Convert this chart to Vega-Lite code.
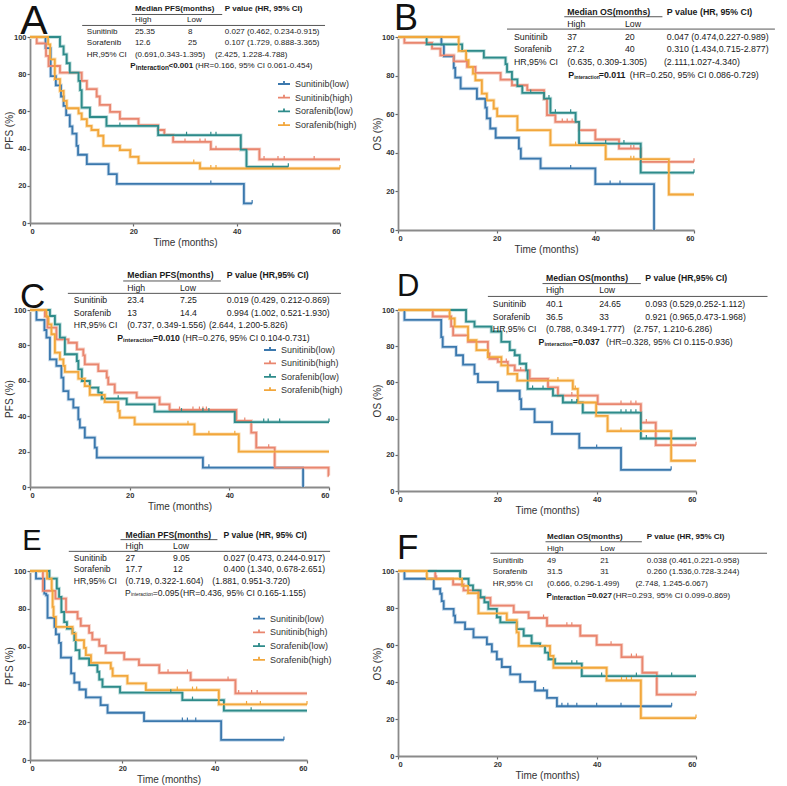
{
"$schema": "https://vega.github.io/schema/vega-lite/v6.json",
"padding": {"left": 4, "top": 1, "right": 2, "bottom": 1},
"background": "white",
"config": {
 "font": "Liberation Sans",
 "view": {"stroke": null},
 "axis": {"grid": false, "labelFontSize": 7.5, "labelFontWeight": "bold", "labelColor": "#333", "tickSize": 3, "tickColor": "#666", "tickWidth": 1.2, "domainColor": "#8a8a8a", "domainWidth": 1.8, "labelPadding": 1, "titleFontSize": 10, "titleFontWeight": "normal", "titleColor": "#333"},
 "axisX": {"titlePadding": 3},
 "axisY": {"titlePadding": -1}
},
"columns": 2,
"spacing": {"row": 80, "column": 58},
"bounds": "flush",
"resolve": {"scale": {"color": "independent"}, "legend": {"color": "independent"}},
"datasets": {
"curves": [
{"p":"A","g":"Sunitinib(low)","t":0,"s":100},{"p":"A","g":"Sunitinib(low)","t":3,"s":94},{"p":"A","g":"Sunitinib(low)","t":4,"s":79},{"p":"A","g":"Sunitinib(low)","t":5,"s":74},{"p":"A","g":"Sunitinib(low)","t":6,"s":68},{"p":"A","g":"Sunitinib(low)","t":6.5,"s":63},{"p":"A","g":"Sunitinib(low)","t":7,"s":58},{"p":"A","g":"Sunitinib(low)","t":7.7,"s":52},{"p":"A","g":"Sunitinib(low)","t":8.2,"s":48},{"p":"A","g":"Sunitinib(low)","t":9,"s":41.5},{"p":"A","g":"Sunitinib(low)","t":9.3,"s":36.7},{"p":"A","g":"Sunitinib(low)","t":11,"s":31.7},{"p":"A","g":"Sunitinib(low)","t":15.2,"s":26.3},{"p":"A","g":"Sunitinib(low)","t":16.8,"s":21},{"p":"A","g":"Sunitinib(low)","t":41.4,"s":10.5},{"p":"A","g":"Sunitinib(low)","t":43,"s":10.5},
{"p":"A","g":"Sunitinib(high)","t":0,"s":100},{"p":"A","g":"Sunitinib(high)","t":1.3,"s":96.6},{"p":"A","g":"Sunitinib(high)","t":3.1,"s":89.8},{"p":"A","g":"Sunitinib(high)","t":3.6,"s":84.4},{"p":"A","g":"Sunitinib(high)","t":5.8,"s":80.8},{"p":"A","g":"Sunitinib(high)","t":10,"s":76.4},{"p":"A","g":"Sunitinib(high)","t":11,"s":72},{"p":"A","g":"Sunitinib(high)","t":12.9,"s":68},{"p":"A","g":"Sunitinib(high)","t":13.5,"s":63.5},{"p":"A","g":"Sunitinib(high)","t":15.5,"s":59.7},{"p":"A","g":"Sunitinib(high)","t":17.4,"s":56},{"p":"A","g":"Sunitinib(high)","t":21,"s":52.6},{"p":"A","g":"Sunitinib(high)","t":24.8,"s":50},{"p":"A","g":"Sunitinib(high)","t":26,"s":47.4},{"p":"A","g":"Sunitinib(high)","t":27.7,"s":43.6},{"p":"A","g":"Sunitinib(high)","t":35,"s":39.7},{"p":"A","g":"Sunitinib(high)","t":44.4,"s":34.2},{"p":"A","g":"Sunitinib(high)","t":60,"s":34.2},
{"p":"A","g":"Sorafenib(low)","t":0,"s":100},{"p":"A","g":"Sorafenib(low)","t":5.8,"s":95},{"p":"A","g":"Sorafenib(low)","t":6.5,"s":90.7},{"p":"A","g":"Sorafenib(low)","t":7.1,"s":85.9},{"p":"A","g":"Sorafenib(low)","t":7.7,"s":80.9},{"p":"A","g":"Sorafenib(low)","t":9.4,"s":76.4},{"p":"A","g":"Sorafenib(low)","t":9.7,"s":71.4},{"p":"A","g":"Sorafenib(low)","t":10,"s":62},{"p":"A","g":"Sorafenib(low)","t":11.6,"s":57},{"p":"A","g":"Sorafenib(low)","t":14.8,"s":52.2},{"p":"A","g":"Sorafenib(low)","t":24.8,"s":47.2},{"p":"A","g":"Sorafenib(low)","t":40.8,"s":39.4},{"p":"A","g":"Sorafenib(low)","t":41.9,"s":30.2},{"p":"A","g":"Sorafenib(low)","t":50,"s":30.2},
{"p":"A","g":"Sorafenib(high)","t":0,"s":100},{"p":"A","g":"Sorafenib(high)","t":3.5,"s":96},{"p":"A","g":"Sorafenib(high)","t":3.9,"s":88},{"p":"A","g":"Sorafenib(high)","t":4.8,"s":77.3},{"p":"A","g":"Sorafenib(high)","t":5.8,"s":71},{"p":"A","g":"Sorafenib(high)","t":6.5,"s":65.7},{"p":"A","g":"Sorafenib(high)","t":7.1,"s":61.7},{"p":"A","g":"Sorafenib(high)","t":9.4,"s":58.9},{"p":"A","g":"Sorafenib(high)","t":10,"s":55.8},{"p":"A","g":"Sorafenib(high)","t":11,"s":52.2},{"p":"A","g":"Sorafenib(high)","t":11.9,"s":50},{"p":"A","g":"Sorafenib(high)","t":13.2,"s":46.9},{"p":"A","g":"Sorafenib(high)","t":14.2,"s":41.5},{"p":"A","g":"Sorafenib(high)","t":17.4,"s":39.2},{"p":"A","g":"Sorafenib(high)","t":19.4,"s":35.6},{"p":"A","g":"Sorafenib(high)","t":21,"s":32.2},{"p":"A","g":"Sorafenib(high)","t":32.9,"s":29.3},{"p":"A","g":"Sorafenib(high)","t":60,"s":29.3},

{"p":"B","g":"Sunitinib(low)","t":0,"s":100},{"p":"B","g":"Sunitinib(low)","t":8.8,"s":96},{"p":"B","g":"Sunitinib(low)","t":9.3,"s":90},{"p":"B","g":"Sunitinib(low)","t":11.3,"s":84},{"p":"B","g":"Sunitinib(low)","t":11.6,"s":79},{"p":"B","g":"Sunitinib(low)","t":12.7,"s":73.3},{"p":"B","g":"Sunitinib(low)","t":16,"s":68},{"p":"B","g":"Sunitinib(low)","t":17.7,"s":63.4},{"p":"B","g":"Sunitinib(low)","t":18,"s":57.8},{"p":"B","g":"Sunitinib(low)","t":18.7,"s":52.6},{"p":"B","g":"Sunitinib(low)","t":19.8,"s":47.8},{"p":"B","g":"Sunitinib(low)","t":24.5,"s":42.2},{"p":"B","g":"Sunitinib(low)","t":24.9,"s":37},{"p":"B","g":"Sunitinib(low)","t":28.9,"s":31.9},{"p":"B","g":"Sunitinib(low)","t":40,"s":23.8},{"p":"B","g":"Sunitinib(low)","t":51.9,"s":0},
{"p":"B","g":"Sunitinib(high)","t":0,"s":100},{"p":"B","g":"Sunitinib(high)","t":1.3,"s":97},{"p":"B","g":"Sunitinib(high)","t":6.9,"s":94},{"p":"B","g":"Sunitinib(high)","t":8.6,"s":90.5},{"p":"B","g":"Sunitinib(high)","t":11.3,"s":87.4},{"p":"B","g":"Sunitinib(high)","t":14,"s":84.5},{"p":"B","g":"Sunitinib(high)","t":15.7,"s":81.4},{"p":"B","g":"Sunitinib(high)","t":20.8,"s":77.9},{"p":"B","g":"Sunitinib(high)","t":23.1,"s":75},{"p":"B","g":"Sunitinib(high)","t":26.2,"s":72.4},{"p":"B","g":"Sunitinib(high)","t":29.6,"s":67.8},{"p":"B","g":"Sunitinib(high)","t":30.2,"s":59.5},{"p":"B","g":"Sunitinib(high)","t":31.9,"s":56},{"p":"B","g":"Sunitinib(high)","t":36.7,"s":51.7},{"p":"B","g":"Sunitinib(high)","t":40,"s":46.9},{"p":"B","g":"Sunitinib(high)","t":44.8,"s":42.2},{"p":"B","g":"Sunitinib(high)","t":49.2,"s":35.3},{"p":"B","g":"Sunitinib(high)","t":60,"s":35.3},
{"p":"B","g":"Sorafenib(low)","t":0,"s":100},{"p":"B","g":"Sorafenib(low)","t":5.8,"s":96.2},{"p":"B","g":"Sorafenib(low)","t":13,"s":92.8},{"p":"B","g":"Sorafenib(low)","t":17.4,"s":89.3},{"p":"B","g":"Sorafenib(low)","t":21.8,"s":85.9},{"p":"B","g":"Sorafenib(low)","t":22.1,"s":81.9},{"p":"B","g":"Sorafenib(low)","t":23.1,"s":78},{"p":"B","g":"Sorafenib(low)","t":24.2,"s":74.5},{"p":"B","g":"Sorafenib(low)","t":25.2,"s":71},{"p":"B","g":"Sorafenib(low)","t":29.6,"s":68.1},{"p":"B","g":"Sorafenib(low)","t":30.9,"s":60.7},{"p":"B","g":"Sorafenib(low)","t":36,"s":56},{"p":"B","g":"Sorafenib(low)","t":36.7,"s":44.8},{"p":"B","g":"Sorafenib(low)","t":49.2,"s":29.7},{"p":"B","g":"Sorafenib(low)","t":60,"s":29.7},
{"p":"B","g":"Sorafenib(high)","t":0,"s":100},{"p":"B","g":"Sorafenib(high)","t":12.3,"s":92.8},{"p":"B","g":"Sorafenib(high)","t":13.8,"s":88},{"p":"B","g":"Sorafenib(high)","t":14.3,"s":84.5},{"p":"B","g":"Sorafenib(high)","t":15.2,"s":81},{"p":"B","g":"Sorafenib(high)","t":15.7,"s":77.6},{"p":"B","g":"Sorafenib(high)","t":17,"s":70.7},{"p":"B","g":"Sorafenib(high)","t":18,"s":67.2},{"p":"B","g":"Sorafenib(high)","t":19.4,"s":62.9},{"p":"B","g":"Sorafenib(high)","t":20.1,"s":59},{"p":"B","g":"Sorafenib(high)","t":24.2,"s":51.7},{"p":"B","g":"Sorafenib(high)","t":30.9,"s":44},{"p":"B","g":"Sorafenib(high)","t":42.1,"s":36.7},{"p":"B","g":"Sorafenib(high)","t":54.9,"s":18.4},{"p":"B","g":"Sorafenib(high)","t":60,"s":18.4},

{"p":"C","g":"Sunitinib(low)","t":0,"s":100},{"p":"C","g":"Sunitinib(low)","t":1.3,"s":94.4},{"p":"C","g":"Sunitinib(low)","t":2.9,"s":88.7},{"p":"C","g":"Sunitinib(low)","t":3.3,"s":84.4},{"p":"C","g":"Sunitinib(low)","t":4,"s":72.1},{"p":"C","g":"Sunitinib(low)","t":5.3,"s":68.4},{"p":"C","g":"Sunitinib(low)","t":6.3,"s":61.8},{"p":"C","g":"Sunitinib(low)","t":6.7,"s":54.2},{"p":"C","g":"Sunitinib(low)","t":7.7,"s":49.5},{"p":"C","g":"Sunitinib(low)","t":8.7,"s":44.8},{"p":"C","g":"Sunitinib(low)","t":9.7,"s":38.2},{"p":"C","g":"Sunitinib(low)","t":10,"s":33.5},{"p":"C","g":"Sunitinib(low)","t":11,"s":27.9},{"p":"C","g":"Sunitinib(low)","t":13,"s":22.2},{"p":"C","g":"Sunitinib(low)","t":13.4,"s":16.6},{"p":"C","g":"Sunitinib(low)","t":34.7,"s":10.9},{"p":"C","g":"Sunitinib(low)","t":54.8,"s":0},
{"p":"C","g":"Sunitinib(high)","t":0,"s":100},{"p":"C","g":"Sunitinib(high)","t":3,"s":96.4},{"p":"C","g":"Sunitinib(high)","t":3.5,"s":90},{"p":"C","g":"Sunitinib(high)","t":5.3,"s":83.4},{"p":"C","g":"Sunitinib(high)","t":7.7,"s":81.5},{"p":"C","g":"Sunitinib(high)","t":9.4,"s":77.8},{"p":"C","g":"Sunitinib(high)","t":10.7,"s":74.4},{"p":"C","g":"Sunitinib(high)","t":11,"s":69.3},{"p":"C","g":"Sunitinib(high)","t":13.7,"s":65.5},{"p":"C","g":"Sunitinib(high)","t":15.4,"s":61.8},{"p":"C","g":"Sunitinib(high)","t":15.7,"s":58},{"p":"C","g":"Sunitinib(high)","t":17,"s":53.3},{"p":"C","g":"Sunitinib(high)","t":21.4,"s":50.5},{"p":"C","g":"Sunitinib(high)","t":26,"s":46.7},{"p":"C","g":"Sunitinib(high)","t":28,"s":43.5},{"p":"C","g":"Sunitinib(high)","t":41.4,"s":37.3},{"p":"C","g":"Sunitinib(high)","t":44.4,"s":30.7},{"p":"C","g":"Sunitinib(high)","t":45.4,"s":22.2},{"p":"C","g":"Sunitinib(high)","t":49.1,"s":10.9},{"p":"C","g":"Sunitinib(high)","t":59.9,"s":6.5},{"p":"C","g":"Sunitinib(high)","t":60,"s":6.5},
{"p":"C","g":"Sorafenib(low)","t":0,"s":100},{"p":"C","g":"Sorafenib(low)","t":4,"s":96.6},{"p":"C","g":"Sorafenib(low)","t":5,"s":91.9},{"p":"C","g":"Sorafenib(low)","t":6,"s":84.4},{"p":"C","g":"Sorafenib(low)","t":7,"s":75},{"p":"C","g":"Sorafenib(low)","t":9.4,"s":71.2},{"p":"C","g":"Sorafenib(low)","t":9.7,"s":66.5},{"p":"C","g":"Sorafenib(low)","t":10.4,"s":59.9},{"p":"C","g":"Sorafenib(low)","t":12,"s":56.1},{"p":"C","g":"Sorafenib(low)","t":13.7,"s":53.3},{"p":"C","g":"Sorafenib(low)","t":14.4,"s":49.9},{"p":"C","g":"Sorafenib(low)","t":19.4,"s":46.7},{"p":"C","g":"Sorafenib(low)","t":25,"s":42.6},{"p":"C","g":"Sorafenib(low)","t":41.1,"s":36.7},{"p":"C","g":"Sorafenib(low)","t":60,"s":36.7},
{"p":"C","g":"Sorafenib(high)","t":0,"s":100},{"p":"C","g":"Sorafenib(high)","t":3.3,"s":96.2},{"p":"C","g":"Sorafenib(high)","t":3.7,"s":91.9},{"p":"C","g":"Sorafenib(high)","t":4.3,"s":86.3},{"p":"C","g":"Sorafenib(high)","t":5,"s":75.9},{"p":"C","g":"Sorafenib(high)","t":6,"s":72.1},{"p":"C","g":"Sorafenib(high)","t":6.7,"s":68.4},{"p":"C","g":"Sorafenib(high)","t":7,"s":65},{"p":"C","g":"Sorafenib(high)","t":9.7,"s":61.2},{"p":"C","g":"Sorafenib(high)","t":11,"s":57},{"p":"C","g":"Sorafenib(high)","t":12,"s":52},{"p":"C","g":"Sorafenib(high)","t":15,"s":48},{"p":"C","g":"Sorafenib(high)","t":17.7,"s":43},{"p":"C","g":"Sorafenib(high)","t":18,"s":39.2},{"p":"C","g":"Sorafenib(high)","t":21,"s":35.4},{"p":"C","g":"Sorafenib(high)","t":33,"s":29.8},{"p":"C","g":"Sorafenib(high)","t":41.9,"s":20},{"p":"C","g":"Sorafenib(high)","t":60,"s":20},

{"p":"D","g":"Sunitinib(low)","t":0,"s":100},{"p":"D","g":"Sunitinib(low)","t":1.3,"s":94.5},{"p":"D","g":"Sunitinib(low)","t":8.7,"s":85},{"p":"D","g":"Sunitinib(low)","t":9,"s":79.6},{"p":"D","g":"Sunitinib(low)","t":11.7,"s":75},{"p":"D","g":"Sunitinib(low)","t":13.1,"s":69.8},{"p":"D","g":"Sunitinib(low)","t":15.4,"s":64.7},{"p":"D","g":"Sunitinib(low)","t":16.1,"s":60.1},{"p":"D","g":"Sunitinib(low)","t":20.1,"s":55.4},{"p":"D","g":"Sunitinib(low)","t":24.5,"s":50.8},{"p":"D","g":"Sunitinib(low)","t":24.8,"s":45.2},{"p":"D","g":"Sunitinib(low)","t":27.5,"s":38.1},{"p":"D","g":"Sunitinib(low)","t":31,"s":31.6},{"p":"D","g":"Sunitinib(low)","t":36.5,"s":23.8},{"p":"D","g":"Sunitinib(low)","t":44.9,"s":11.7},{"p":"D","g":"Sunitinib(low)","t":55,"s":11.7},
{"p":"D","g":"Sunitinib(high)","t":0,"s":100},{"p":"D","g":"Sunitinib(high)","t":7,"s":96.4},{"p":"D","g":"Sunitinib(high)","t":10.7,"s":91},{"p":"D","g":"Sunitinib(high)","t":11.1,"s":86},{"p":"D","g":"Sunitinib(high)","t":14.1,"s":82.4},{"p":"D","g":"Sunitinib(high)","t":18.1,"s":76},{"p":"D","g":"Sunitinib(high)","t":18.4,"s":73},{"p":"D","g":"Sunitinib(high)","t":20.1,"s":71.3},{"p":"D","g":"Sunitinib(high)","t":22.1,"s":69.4},{"p":"D","g":"Sunitinib(high)","t":23.5,"s":66.6},{"p":"D","g":"Sunitinib(high)","t":26.5,"s":62},{"p":"D","g":"Sunitinib(high)","t":30.2,"s":57.3},{"p":"D","g":"Sunitinib(high)","t":32.2,"s":52.7},{"p":"D","g":"Sunitinib(high)","t":40.2,"s":48},{"p":"D","g":"Sunitinib(high)","t":48.9,"s":37.8},{"p":"D","g":"Sunitinib(high)","t":51.9,"s":25.3},{"p":"D","g":"Sunitinib(high)","t":60,"s":25.3},
{"p":"D","g":"Sorafenib(low)","t":0,"s":100},{"p":"D","g":"Sorafenib(low)","t":13.7,"s":93.6},{"p":"D","g":"Sorafenib(low)","t":15.4,"s":90.8},{"p":"D","g":"Sorafenib(low)","t":18.8,"s":88},{"p":"D","g":"Sorafenib(low)","t":20.8,"s":82.4},{"p":"D","g":"Sorafenib(low)","t":22.5,"s":77.8},{"p":"D","g":"Sorafenib(low)","t":23.5,"s":75},{"p":"D","g":"Sorafenib(low)","t":24.5,"s":70.3},{"p":"D","g":"Sorafenib(low)","t":25.8,"s":66.6},{"p":"D","g":"Sorafenib(low)","t":26.1,"s":56.4},{"p":"D","g":"Sorafenib(low)","t":31.2,"s":52.7},{"p":"D","g":"Sorafenib(low)","t":33.2,"s":48.9},{"p":"D","g":"Sorafenib(low)","t":37.2,"s":43.3},{"p":"D","g":"Sorafenib(low)","t":48.9,"s":29},{"p":"D","g":"Sorafenib(low)","t":60,"s":29},
{"p":"D","g":"Sorafenib(high)","t":0,"s":100},{"p":"D","g":"Sorafenib(high)","t":10.4,"s":95.3},{"p":"D","g":"Sorafenib(high)","t":11.4,"s":90.8},{"p":"D","g":"Sorafenib(high)","t":14.1,"s":83.3},{"p":"D","g":"Sorafenib(high)","t":15.8,"s":77.8},{"p":"D","g":"Sorafenib(high)","t":18.1,"s":74},{"p":"D","g":"Sorafenib(high)","t":20.8,"s":69.4},{"p":"D","g":"Sorafenib(high)","t":22.1,"s":64.7},{"p":"D","g":"Sorafenib(high)","t":24,"s":61},{"p":"D","g":"Sorafenib(high)","t":35.2,"s":56.4},{"p":"D","g":"Sorafenib(high)","t":36.2,"s":48.9},{"p":"D","g":"Sorafenib(high)","t":39.9,"s":41.5},{"p":"D","g":"Sorafenib(high)","t":42.2,"s":33.1},{"p":"D","g":"Sorafenib(high)","t":55,"s":16.7},{"p":"D","g":"Sorafenib(high)","t":60,"s":16.7},

{"p":"E","g":"Sunitinib(low)","t":0,"s":100},{"p":"E","g":"Sunitinib(low)","t":1.3,"s":96},{"p":"E","g":"Sunitinib(low)","t":3.1,"s":88},{"p":"E","g":"Sunitinib(low)","t":3.5,"s":87.1},{"p":"E","g":"Sunitinib(low)","t":3.8,"s":75.2},{"p":"E","g":"Sunitinib(low)","t":5.3,"s":70.4},{"p":"E","g":"Sunitinib(low)","t":5.6,"s":66.5},{"p":"E","g":"Sunitinib(low)","t":6.3,"s":62},{"p":"E","g":"Sunitinib(low)","t":6.7,"s":54.2},{"p":"E","g":"Sunitinib(low)","t":8.9,"s":45.8},{"p":"E","g":"Sunitinib(low)","t":9.6,"s":41},{"p":"E","g":"Sunitinib(low)","t":10.7,"s":37.3},{"p":"E","g":"Sunitinib(low)","t":12.1,"s":33.1},{"p":"E","g":"Sunitinib(low)","t":15.3,"s":29},{"p":"E","g":"Sunitinib(low)","t":16.8,"s":25},{"p":"E","g":"Sunitinib(low)","t":24.7,"s":20.6},{"p":"E","g":"Sunitinib(low)","t":41.4,"s":10.6},{"p":"E","g":"Sunitinib(low)","t":55,"s":10.6},
{"p":"E","g":"Sunitinib(high)","t":0,"s":100},{"p":"E","g":"Sunitinib(high)","t":2.8,"s":89.5},{"p":"E","g":"Sunitinib(high)","t":5.5,"s":85.4},{"p":"E","g":"Sunitinib(high)","t":7.8,"s":78.3},{"p":"E","g":"Sunitinib(high)","t":10.3,"s":74.8},{"p":"E","g":"Sunitinib(high)","t":11,"s":71},{"p":"E","g":"Sunitinib(high)","t":12.8,"s":67.3},{"p":"E","g":"Sunitinib(high)","t":13.5,"s":63.7},{"p":"E","g":"Sunitinib(high)","t":15,"s":60.4},{"p":"E","g":"Sunitinib(high)","t":16.4,"s":56.7},{"p":"E","g":"Sunitinib(high)","t":20.4,"s":53.2},{"p":"E","g":"Sunitinib(high)","t":23.6,"s":50.2},{"p":"E","g":"Sunitinib(high)","t":28,"s":46.1},{"p":"E","g":"Sunitinib(high)","t":34.8,"s":42.3},{"p":"E","g":"Sunitinib(high)","t":44.5,"s":35.2},{"p":"E","g":"Sunitinib(high)","t":60,"s":35.2},
{"p":"E","g":"Sorafenib(low)","t":0,"s":100},{"p":"E","g":"Sorafenib(low)","t":4.2,"s":96},{"p":"E","g":"Sorafenib(low)","t":5.8,"s":90.7},{"p":"E","g":"Sorafenib(low)","t":6.3,"s":86.3},{"p":"E","g":"Sorafenib(low)","t":6.8,"s":78.3},{"p":"E","g":"Sorafenib(low)","t":7.4,"s":73},{"p":"E","g":"Sorafenib(low)","t":8,"s":69.5},{"p":"E","g":"Sorafenib(low)","t":9.2,"s":67.3},{"p":"E","g":"Sorafenib(low)","t":9.6,"s":63.4},{"p":"E","g":"Sorafenib(low)","t":9.9,"s":58.1},{"p":"E","g":"Sorafenib(low)","t":10.7,"s":53.7},{"p":"E","g":"Sorafenib(low)","t":12.8,"s":50.2},{"p":"E","g":"Sorafenib(low)","t":14.6,"s":46.7},{"p":"E","g":"Sorafenib(low)","t":15,"s":42.6},{"p":"E","g":"Sorafenib(low)","t":15.7,"s":38.7},{"p":"E","g":"Sorafenib(low)","t":19.5,"s":35.6},{"p":"E","g":"Sorafenib(low)","t":33,"s":31.7},{"p":"E","g":"Sorafenib(low)","t":42,"s":26.1},{"p":"E","g":"Sorafenib(low)","t":60,"s":26.1},
{"p":"E","g":"Sorafenib(high)","t":0,"s":100},{"p":"E","g":"Sorafenib(high)","t":3.7,"s":96},{"p":"E","g":"Sorafenib(high)","t":4.7,"s":89.8},{"p":"E","g":"Sorafenib(high)","t":4.9,"s":81},{"p":"E","g":"Sorafenib(high)","t":5.1,"s":75.7},{"p":"E","g":"Sorafenib(high)","t":5.6,"s":70.4},{"p":"E","g":"Sorafenib(high)","t":9.2,"s":66.9},{"p":"E","g":"Sorafenib(high)","t":9.9,"s":63.4},{"p":"E","g":"Sorafenib(high)","t":11.7,"s":59.3},{"p":"E","g":"Sorafenib(high)","t":12.1,"s":55.5},{"p":"E","g":"Sorafenib(high)","t":13.2,"s":51.4},{"p":"E","g":"Sorafenib(high)","t":17.5,"s":48.4},{"p":"E","g":"Sorafenib(high)","t":17.9,"s":44.5},{"p":"E","g":"Sorafenib(high)","t":21.1,"s":40.5},{"p":"E","g":"Sorafenib(high)","t":25.1,"s":37},{"p":"E","g":"Sorafenib(high)","t":40.9,"s":29.4},{"p":"E","g":"Sorafenib(high)","t":60,"s":29.4},

{"p":"F","g":"Sunitinib(low)","t":0,"s":100},{"p":"F","g":"Sunitinib(low)","t":1.3,"s":95.8},{"p":"F","g":"Sunitinib(low)","t":7.2,"s":90.4},{"p":"F","g":"Sunitinib(low)","t":8.5,"s":87.7},{"p":"F","g":"Sunitinib(low)","t":8.8,"s":83.7},{"p":"F","g":"Sunitinib(low)","t":9.2,"s":79.5},{"p":"F","g":"Sunitinib(low)","t":11.2,"s":75.9},{"p":"F","g":"Sunitinib(low)","t":11.5,"s":72.2},{"p":"F","g":"Sunitinib(low)","t":13.5,"s":68.6},{"p":"F","g":"Sunitinib(low)","t":15.2,"s":64.1},{"p":"F","g":"Sunitinib(low)","t":17.9,"s":60.4},{"p":"F","g":"Sunitinib(low)","t":18.9,"s":56.4},{"p":"F","g":"Sunitinib(low)","t":19.9,"s":52.3},{"p":"F","g":"Sunitinib(low)","t":20.9,"s":48.1},{"p":"F","g":"Sunitinib(low)","t":22.6,"s":44.1},{"p":"F","g":"Sunitinib(low)","t":24.6,"s":40.1},{"p":"F","g":"Sunitinib(low)","t":27.6,"s":35.4},{"p":"F","g":"Sunitinib(low)","t":30,"s":31.4},{"p":"F","g":"Sunitinib(low)","t":32,"s":26.9},{"p":"F","g":"Sunitinib(low)","t":55.1,"s":26.9},
{"p":"F","g":"Sunitinib(high)","t":0,"s":100},{"p":"F","g":"Sunitinib(high)","t":7.5,"s":95.8},{"p":"F","g":"Sunitinib(high)","t":11.1,"s":92.7},{"p":"F","g":"Sunitinib(high)","t":13.2,"s":89.5},{"p":"F","g":"Sunitinib(high)","t":16.2,"s":85.5},{"p":"F","g":"Sunitinib(high)","t":18.6,"s":81.3},{"p":"F","g":"Sunitinib(high)","t":23.3,"s":77.7},{"p":"F","g":"Sunitinib(high)","t":26.3,"s":74.6},{"p":"F","g":"Sunitinib(high)","t":30,"s":70.4},{"p":"F","g":"Sunitinib(high)","t":36.7,"s":65},{"p":"F","g":"Sunitinib(high)","t":40,"s":60.1},{"p":"F","g":"Sunitinib(high)","t":45,"s":53.5},{"p":"F","g":"Sunitinib(high)","t":49.2,"s":45},{"p":"F","g":"Sunitinib(high)","t":52.1,"s":33.2},{"p":"F","g":"Sunitinib(high)","t":60,"s":33.2},
{"p":"F","g":"Sorafenib(low)","t":0,"s":100},{"p":"F","g":"Sorafenib(low)","t":12.5,"s":95.8},{"p":"F","g":"Sorafenib(low)","t":14.2,"s":92.2},{"p":"F","g":"Sorafenib(low)","t":15.1,"s":89.5},{"p":"F","g":"Sorafenib(low)","t":16.6,"s":85.8},{"p":"F","g":"Sorafenib(low)","t":17.4,"s":83.1},{"p":"F","g":"Sorafenib(low)","t":18.2,"s":79.5},{"p":"F","g":"Sorafenib(low)","t":19.9,"s":75},{"p":"F","g":"Sorafenib(low)","t":20.6,"s":72.2},{"p":"F","g":"Sorafenib(low)","t":23.9,"s":68.6},{"p":"F","g":"Sorafenib(low)","t":25.3,"s":65},{"p":"F","g":"Sorafenib(low)","t":26.9,"s":60.8},{"p":"F","g":"Sorafenib(low)","t":28.6,"s":59.5},{"p":"F","g":"Sorafenib(low)","t":29.6,"s":55.9},{"p":"F","g":"Sorafenib(low)","t":30.3,"s":52.3},{"p":"F","g":"Sorafenib(low)","t":31.6,"s":49.9},{"p":"F","g":"Sorafenib(low)","t":37,"s":43.2},{"p":"F","g":"Sorafenib(low)","t":60,"s":43.2},
{"p":"F","g":"Sorafenib(high)","t":0,"s":100},{"p":"F","g":"Sorafenib(high)","t":5.8,"s":95.8},{"p":"F","g":"Sorafenib(high)","t":12.9,"s":92},{"p":"F","g":"Sorafenib(high)","t":14.1,"s":88},{"p":"F","g":"Sorafenib(high)","t":16.2,"s":77.1},{"p":"F","g":"Sorafenib(high)","t":21.9,"s":73.5},{"p":"F","g":"Sorafenib(high)","t":23.9,"s":66.8},{"p":"F","g":"Sorafenib(high)","t":24.3,"s":59.5},{"p":"F","g":"Sorafenib(high)","t":30.6,"s":54.1},{"p":"F","g":"Sorafenib(high)","t":31.3,"s":47.7},{"p":"F","g":"Sorafenib(high)","t":42,"s":40.8},{"p":"F","g":"Sorafenib(high)","t":48.9,"s":20.5},{"p":"F","g":"Sorafenib(high)","t":60,"s":20.5}
],
"censors": [
{"p":"A","g":"Sunitinib(low)","t":35,"s":21},{"p":"A","g":"Sunitinib(low)","t":43,"s":10.5},
{"p":"A","g":"Sunitinib(high)","t":30,"s":43.6},{"p":"A","g":"Sunitinib(high)","t":32.9,"s":43.6},{"p":"A","g":"Sunitinib(high)","t":33.9,"s":43.6},{"p":"A","g":"Sunitinib(high)","t":36,"s":39.7},{"p":"A","g":"Sunitinib(high)","t":45.3,"s":34.2},{"p":"A","g":"Sunitinib(high)","t":48,"s":34.2},{"p":"A","g":"Sunitinib(high)","t":49.2,"s":34.2},{"p":"A","g":"Sunitinib(high)","t":55,"s":34.2},
{"p":"A","g":"Sorafenib(low)","t":17.4,"s":52.2},{"p":"A","g":"Sorafenib(low)","t":30.3,"s":47.2},{"p":"A","g":"Sorafenib(low)","t":35,"s":47.2},{"p":"A","g":"Sorafenib(low)","t":36,"s":47.2},{"p":"A","g":"Sorafenib(low)","t":47,"s":30.2},{"p":"A","g":"Sorafenib(low)","t":50,"s":30.2},
{"p":"A","g":"Sorafenib(high)","t":31.7,"s":32.2},{"p":"A","g":"Sorafenib(high)","t":35,"s":29.3},{"p":"A","g":"Sorafenib(high)","t":36,"s":29.3},{"p":"A","g":"Sorafenib(high)","t":60,"s":29.3},
{"p":"B","g":"Sunitinib(low)","t":35,"s":31.9},{"p":"B","g":"Sunitinib(low)","t":43,"s":23.8},{"p":"B","g":"Sunitinib(low)","t":45,"s":23.8},
{"p":"B","g":"Sunitinib(high)","t":33.3,"s":56},{"p":"B","g":"Sunitinib(high)","t":34.3,"s":56},{"p":"B","g":"Sunitinib(high)","t":35.3,"s":56},{"p":"B","g":"Sunitinib(high)","t":47.2,"s":42.2},{"p":"B","g":"Sunitinib(high)","t":47.8,"s":42.2},{"p":"B","g":"Sunitinib(high)","t":60,"s":35.3},
{"p":"B","g":"Sorafenib(low)","t":26.9,"s":71},{"p":"B","g":"Sorafenib(low)","t":30.6,"s":68.1},{"p":"B","g":"Sorafenib(low)","t":31.9,"s":60.7},{"p":"B","g":"Sorafenib(low)","t":35,"s":60.7},{"p":"B","g":"Sorafenib(low)","t":42.1,"s":44.8},{"p":"B","g":"Sorafenib(low)","t":45.8,"s":44.8},{"p":"B","g":"Sorafenib(low)","t":60,"s":29.7},
{"p":"B","g":"Sorafenib(high)","t":36,"s":44},{"p":"B","g":"Sorafenib(high)","t":47.2,"s":36.7},{"p":"B","g":"Sorafenib(high)","t":47.8,"s":36.7},
{"p":"C","g":"Sunitinib(low)","t":35.9,"s":10.9},
{"p":"C","g":"Sunitinib(high)","t":30,"s":43.5},{"p":"C","g":"Sunitinib(high)","t":32.7,"s":43.5},{"p":"C","g":"Sunitinib(high)","t":34,"s":43.5},{"p":"C","g":"Sunitinib(high)","t":34.7,"s":43.5},{"p":"C","g":"Sunitinib(high)","t":35.4,"s":43.5},{"p":"C","g":"Sunitinib(high)","t":43.1,"s":37.3},{"p":"C","g":"Sunitinib(high)","t":47.9,"s":22.2},
{"p":"C","g":"Sorafenib(low)","t":17.7,"s":49.9},{"p":"C","g":"Sorafenib(low)","t":30.4,"s":42.6},{"p":"C","g":"Sorafenib(low)","t":34.7,"s":42.6},{"p":"C","g":"Sorafenib(low)","t":35.9,"s":42.6},{"p":"C","g":"Sorafenib(low)","t":46.9,"s":36.7},{"p":"C","g":"Sorafenib(low)","t":47.8,"s":36.7},{"p":"C","g":"Sorafenib(low)","t":50.1,"s":36.7},{"p":"C","g":"Sorafenib(low)","t":60,"s":36.7},
{"p":"C","g":"Sorafenib(high)","t":31.7,"s":35.4},{"p":"C","g":"Sorafenib(high)","t":35.9,"s":29.8},{"p":"C","g":"Sorafenib(high)","t":41.1,"s":29.8},
{"p":"D","g":"Sunitinib(low)","t":40,"s":23.8},{"p":"D","g":"Sunitinib(low)","t":55,"s":11.7},
{"p":"D","g":"Sunitinib(high)","t":21.8,"s":71.3},{"p":"D","g":"Sunitinib(high)","t":24.7,"s":66.6},{"p":"D","g":"Sunitinib(high)","t":35,"s":52.7},{"p":"D","g":"Sunitinib(high)","t":44.9,"s":48},{"p":"D","g":"Sunitinib(high)","t":46.9,"s":48},{"p":"D","g":"Sunitinib(high)","t":47.9,"s":48},{"p":"D","g":"Sunitinib(high)","t":50,"s":37.8},{"p":"D","g":"Sunitinib(high)","t":60,"s":25.3},
{"p":"D","g":"Sorafenib(low)","t":27.1,"s":56.4},{"p":"D","g":"Sorafenib(low)","t":29.2,"s":56.4},{"p":"D","g":"Sorafenib(low)","t":35,"s":48.9},{"p":"D","g":"Sorafenib(low)","t":36,"s":48.9},{"p":"D","g":"Sorafenib(low)","t":44.9,"s":43.3},{"p":"D","g":"Sorafenib(low)","t":45.9,"s":43.3},{"p":"D","g":"Sorafenib(low)","t":46.9,"s":43.3},{"p":"D","g":"Sorafenib(low)","t":47.9,"s":43.3},{"p":"D","g":"Sorafenib(low)","t":50,"s":29},
{"p":"D","g":"Sorafenib(high)","t":32.2,"s":61},{"p":"D","g":"Sorafenib(high)","t":35.7,"s":56.4},{"p":"D","g":"Sorafenib(high)","t":44.9,"s":33.1},
{"p":"E","g":"Sunitinib(low)","t":33,"s":20.6},{"p":"E","g":"Sunitinib(low)","t":34.1,"s":20.6},{"p":"E","g":"Sunitinib(low)","t":35.9,"s":20.6},{"p":"E","g":"Sunitinib(low)","t":55,"s":10.6},
{"p":"E","g":"Sunitinib(high)","t":29.9,"s":46.1},{"p":"E","g":"Sunitinib(high)","t":34.1,"s":46.1},{"p":"E","g":"Sunitinib(high)","t":42.9,"s":42.3},{"p":"E","g":"Sunitinib(high)","t":45.2,"s":35.2},{"p":"E","g":"Sunitinib(high)","t":48,"s":35.2},{"p":"E","g":"Sunitinib(high)","t":49.2,"s":35.2},
{"p":"E","g":"Sorafenib(low)","t":30.5,"s":35.6},{"p":"E","g":"Sorafenib(low)","t":35.2,"s":31.7},{"p":"E","g":"Sorafenib(low)","t":47.9,"s":26.1},
{"p":"E","g":"Sorafenib(high)","t":31.9,"s":37},{"p":"E","g":"Sorafenib(high)","t":35.2,"s":37},{"p":"E","g":"Sorafenib(high)","t":36.1,"s":37},{"p":"E","g":"Sorafenib(high)","t":46.9,"s":29.4},{"p":"E","g":"Sorafenib(high)","t":49.9,"s":29.4},{"p":"E","g":"Sorafenib(high)","t":60,"s":29.4},
{"p":"F","g":"Sunitinib(low)","t":29.3,"s":35.4},{"p":"F","g":"Sunitinib(low)","t":33,"s":26.9},{"p":"F","g":"Sunitinib(low)","t":34.2,"s":26.9},{"p":"F","g":"Sunitinib(low)","t":36,"s":26.9},{"p":"F","g":"Sunitinib(low)","t":40,"s":26.9},{"p":"F","g":"Sunitinib(low)","t":44.9,"s":26.9},{"p":"F","g":"Sunitinib(low)","t":55.1,"s":26.9},
{"p":"F","g":"Sunitinib(high)","t":7.8,"s":95.8},{"p":"F","g":"Sunitinib(high)","t":29.3,"s":74.6},{"p":"F","g":"Sunitinib(high)","t":34,"s":70.4},{"p":"F","g":"Sunitinib(high)","t":35,"s":70.4},{"p":"F","g":"Sunitinib(high)","t":42.9,"s":60.1},{"p":"F","g":"Sunitinib(high)","t":47,"s":53.5},{"p":"F","g":"Sunitinib(high)","t":48,"s":53.5},{"p":"F","g":"Sunitinib(high)","t":60,"s":33.2},
{"p":"F","g":"Sorafenib(low)","t":35,"s":49.9},{"p":"F","g":"Sorafenib(low)","t":36,"s":49.9},{"p":"F","g":"Sorafenib(low)","t":41,"s":43.2},{"p":"F","g":"Sorafenib(low)","t":48,"s":43.2},{"p":"F","g":"Sorafenib(low)","t":55.1,"s":43.2},
{"p":"F","g":"Sorafenib(high)","t":45,"s":40.8},{"p":"F","g":"Sorafenib(high)","t":46,"s":40.8},{"p":"F","g":"Sorafenib(high)","t":47,"s":40.8},{"p":"F","g":"Sorafenib(high)","t":60,"s":20.5}
],
"rules": [
{"p":"A","t":19.7,"t2":37.2,"s":112.1},{"p":"A","t":10.1,"t2":57.1,"s":106.2},
{"p":"B","t":33.7,"t2":53.6,"s":110.5},{"p":"B","t":22.1,"t2":76.4,"s":104.1},
{"p":"C","t":18.7,"t2":38.3,"s":116.4},{"p":"C","t":7.6,"t2":62.4,"s":109.4},
{"p":"D","t":29.1,"t2":48.9,"s":114.6},{"p":"D","t":18.1,"t2":74.4,"s":107.5},
{"p":"E","t":19.6,"t2":40.6,"s":116.6},{"p":"E","t":8.4,"t2":65,"s":110.4},
{"p":"F","t":29.7,"t2":49.1,"s":115.8},{"p":"F","t":18.6,"t2":74.3,"s":109.6}
],
"texts": [
{"p":"A","role":"letter","t":-1.9,"s":101.6,"text":"A"},
{"p":"A","role":"head","t":20.3,"s":114.8,"text":"Median PFS(months)"},{"p":"A","role":"head","t":37.7,"s":114.8,"text":"P value (HR, 95% CI)"},{"p":"A","role":"head","t":19.4,"s":84.4,"text":"P"},{"p":"A","role":"head","t":26.8,"s":84.4,"text":"<0.001"},
{"p":"A","role":"sub","t":19.4,"s":84.4,"text":"interaction"},
{"p":"A","role":"cell","t":20.3,"s":108.9,"text":"High"},{"p":"A","role":"cell","t":30.4,"s":108.9,"text":"Low"},
{"p":"A","role":"cell","t":11,"s":102.7,"text":"Sunitinib"},{"p":"A","role":"cell","t":20.3,"s":102.7,"text":"25.35"},{"p":"A","role":"cell","t":30.6,"s":102.7,"text":"8"},{"p":"A","role":"cell","t":37.7,"s":102.7,"text":"0.027 (0.462, 0.234-0.915)"},
{"p":"A","role":"cell","t":11,"s":96.8,"text":"Sorafenib"},{"p":"A","role":"cell","t":20.3,"s":96.8,"text":"12.6"},{"p":"A","role":"cell","t":30.6,"s":96.8,"text":"25"},{"p":"A","role":"cell","t":37.7,"s":96.8,"text":"0.107 (1.729, 0.888-3.365)"},
{"p":"A","role":"cell","t":11,"s":90.3,"text":"HR,95% CI"},{"p":"A","role":"cell","t":20.3,"s":90.3,"text":"(0.691,0.343-1.395)"},{"p":"A","role":"cell","t":35.8,"s":90.3,"text":"(2.425, 1.228-4.788)"},
{"p":"A","role":"cell","t":32,"s":84.4,"text":"(HR=0.166, 95% CI 0.061-0.454)"},

{"p":"B","role":"letter","t":-0.8,"s":103.6,"text":"B"},
{"p":"B","role":"head","t":34.3,"s":112.8,"text":"Median OS(months)"},{"p":"B","role":"head","t":54.5,"s":112.8,"text":"P value (HR, 95% CI)"},{"p":"B","role":"head","t":34.5,"s":80.3,"text":"P"},{"p":"B","role":"head","t":40.7,"s":80.3,"text":"=0.011"},
{"p":"B","role":"sub","t":34.5,"s":80.3,"text":"interaction"},
{"p":"B","role":"cell","t":34.3,"s":106.6,"text":"High"},{"p":"B","role":"cell","t":46,"s":106.6,"text":"Low"},
{"p":"B","role":"cell","t":23.5,"s":100.2,"text":"Sunitinib"},{"p":"B","role":"cell","t":34.3,"s":100.2,"text":"37"},{"p":"B","role":"cell","t":46,"s":100.2,"text":"20"},{"p":"B","role":"cell","t":54.5,"s":100.2,"text":"0.047 (0.474,0.227-0.989)"},
{"p":"B","role":"cell","t":23.5,"s":93.6,"text":"Sorafenib"},{"p":"B","role":"cell","t":34.3,"s":93.6,"text":"27.2"},{"p":"B","role":"cell","t":46,"s":93.6,"text":"40"},{"p":"B","role":"cell","t":54.5,"s":93.6,"text":"0.310 (1.434,0.715-2.877)"},
{"p":"B","role":"cell","t":23.5,"s":87.2,"text":"HR,95% CI"},{"p":"B","role":"cell","t":34.3,"s":87.2,"text":"(0.635, 0.309-1.305)"},{"p":"B","role":"cell","t":53.9,"s":87.2,"text":"(2.111,1.027-4.340)"},
{"p":"B","role":"cell","t":47,"s":80.3,"text":"(HR=0.250, 95% CI 0.086-0.729)"},

{"p":"C","role":"letter","t":-2,"s":101.1,"text":"C"},
{"p":"C","role":"head","t":19.5,"s":119.8,"text":"Median PFS(months)"},{"p":"C","role":"head","t":39.5,"s":119.8,"text":"P value (HR,95% CI)"},{"p":"C","role":"head","t":17.5,"s":84,"text":"P"},{"p":"C","role":"head","t":24.7,"s":84,"text":"=0.010"},
{"p":"C","role":"sub","t":17.5,"s":84,"text":"interaction"},
{"p":"C","role":"cell","t":19.5,"s":112.3,"text":"High"},{"p":"C","role":"cell","t":30.1,"s":112.3,"text":"Low"},
{"p":"C","role":"cell","t":8.8,"s":105.5,"text":"Sunitinib"},{"p":"C","role":"cell","t":19.5,"s":105.5,"text":"23.4"},{"p":"C","role":"cell","t":30.1,"s":105.5,"text":"7.25"},{"p":"C","role":"cell","t":39.5,"s":105.5,"text":"0.019 (0.429, 0.212-0.869)"},
{"p":"C","role":"cell","t":8.8,"s":98.5,"text":"Sorafenib"},{"p":"C","role":"cell","t":19.5,"s":98.5,"text":"13"},{"p":"C","role":"cell","t":30.1,"s":98.5,"text":"14.4"},{"p":"C","role":"cell","t":39.5,"s":98.5,"text":"0.994 (1.002, 0.521-1.930)"},
{"p":"C","role":"cell","t":8.8,"s":91.4,"text":"HR,95% CI"},{"p":"C","role":"cell","t":19.5,"s":91.4,"text":"(0.737, 0.349-1.556)"},{"p":"C","role":"cell","t":35.9,"s":91.4,"text":"(2.644, 1.200-5.826)"},
{"p":"C","role":"cell","t":30.6,"s":84,"text":"(HR=0.276, 95% CI 0.104-0.731)"},

{"p":"D","role":"letter","t":-0.2,"s":107.5,"text":"D"},
{"p":"D","role":"head","t":29.8,"s":117.7,"text":"Median OS(months)"},{"p":"D","role":"head","t":49.8,"s":117.7,"text":"P value (HR,95% CI)"},{"p":"D","role":"head","t":28.3,"s":82.1,"text":"P"},{"p":"D","role":"head","t":35.2,"s":82.1,"text":"=0.037"},
{"p":"D","role":"sub","t":28.3,"s":82.1,"text":"interaction"},
{"p":"D","role":"cell","t":29.8,"s":110.8,"text":"High"},{"p":"D","role":"cell","t":40.5,"s":110.8,"text":"Low"},
{"p":"D","role":"cell","t":19.1,"s":103.4,"text":"Sunitinib"},{"p":"D","role":"cell","t":29.8,"s":103.4,"text":"40.1"},{"p":"D","role":"cell","t":40.5,"s":103.4,"text":"24.65"},{"p":"D","role":"cell","t":49.8,"s":103.4,"text":"0.093 (0.529,0.252-1.112)"},
{"p":"D","role":"cell","t":19.1,"s":96.4,"text":"Sorafenib"},{"p":"D","role":"cell","t":29.8,"s":96.4,"text":"36.5"},{"p":"D","role":"cell","t":40.5,"s":96.4,"text":"33"},{"p":"D","role":"cell","t":49.8,"s":96.4,"text":"0.921 (0.965,0.473-1.968)"},
{"p":"D","role":"cell","t":19.1,"s":89.5,"text":"HR,95% CI"},{"p":"D","role":"cell","t":29.8,"s":89.5,"text":"(0.788, 0.349-1.777)"},{"p":"D","role":"cell","t":47.4,"s":89.5,"text":"(2.757, 1.210-6.286)"},
{"p":"D","role":"cell","t":41.9,"s":82.1,"text":"(HR=0.328, 95% CI 0.115-0.936)"},

{"p":"E","role":"letter","t":-1.7,"s":111.1,"text":"E"},
{"p":"E","role":"head","t":20.7,"s":118.9,"text":"Median PFS(months)"},{"p":"E","role":"head","t":41.9,"s":118.9,"text":"P value (HR, 95% CI)"},
{"p":"E","role":"cell","t":20.7,"s":113.2,"text":"High"},{"p":"E","role":"cell","t":31,"s":113.2,"text":"Low"},
{"p":"E","role":"cell","t":9.5,"s":107,"text":"Sunitinib"},{"p":"E","role":"cell","t":20.7,"s":107,"text":"27"},{"p":"E","role":"cell","t":31,"s":107,"text":"9.05"},{"p":"E","role":"cell","t":41.9,"s":107,"text":"0.027 (0.473, 0.244-0.917)"},
{"p":"E","role":"cell","t":9.5,"s":100.9,"text":"Sorafenib"},{"p":"E","role":"cell","t":20.7,"s":100.9,"text":"17.7"},{"p":"E","role":"cell","t":31,"s":100.9,"text":"12"},{"p":"E","role":"cell","t":41.9,"s":100.9,"text":"0.400 (1.340, 0.678-2.651)"},
{"p":"E","role":"cell","t":9.5,"s":94.7,"text":"HR,95% CI"},{"p":"E","role":"cell","t":20.7,"s":94.7,"text":"(0.719, 0.322-1.604)"},{"p":"E","role":"cell","t":39.5,"s":94.7,"text":"(1.881, 0.951-3.720)"},
{"p":"E","role":"cell","t":20.6,"s":88.5,"text":"P"},{"p":"E","role":"subplain","t":20.6,"s":88.5,"text":"interaction"},{"p":"E","role":"cell","t":26.6,"s":88.5,"text":"=0.095"},{"p":"E","role":"cell","t":32.5,"s":88.5,"text":"(HR=0.436, 95% CI 0.165-1.155)"},

{"p":"F","role":"letter","t":-0.2,"s":106.5,"text":"F"},
{"p":"F","role":"head","t":30,"s":118.2,"text":"Median OS(months)"},{"p":"F","role":"head","t":50.1,"s":118.2,"text":"P value (HR, 95% CI)"},{"p":"F","role":"head","t":29.9,"s":86.6,"text":"P"},{"p":"F","role":"head","t":38.1,"s":86.6,"text":"=0.027"},
{"p":"F","role":"sub","t":29.9,"s":86.6,"text":"interaction"},
{"p":"F","role":"cell","t":30,"s":111.9,"text":"High"},{"p":"F","role":"cell","t":40.7,"s":111.9,"text":"Low"},
{"p":"F","role":"cell","t":19.1,"s":105.6,"text":"Sunitinib"},{"p":"F","role":"cell","t":30,"s":105.6,"text":"49"},{"p":"F","role":"cell","t":40.7,"s":105.6,"text":"21"},{"p":"F","role":"cell","t":50.1,"s":105.6,"text":"0.038 (0.461,0.221-0.958)"},
{"p":"F","role":"cell","t":19.1,"s":99.6,"text":"Sorafenib"},{"p":"F","role":"cell","t":30,"s":99.6,"text":"31.5"},{"p":"F","role":"cell","t":40.7,"s":99.6,"text":"31"},{"p":"F","role":"cell","t":50.1,"s":99.6,"text":"0.260 (1.536,0.728-3.244)"},
{"p":"F","role":"cell","t":19.1,"s":93,"text":"HR,95% CI"},{"p":"F","role":"cell","t":30,"s":93,"text":"(0.666, 0.296-1.499)"},{"p":"F","role":"cell","t":47.8,"s":93,"text":"(2.748, 1.245-6.067)"},
{"p":"F","role":"cell","t":43.3,"s":86.6,"text":"(HR=0.293, 95% CI 0.099-0.869)"}
]
},
"concat": [
{
 "width": 310, "height": 186,
 "encoding": {
  "x": {"field": "t", "type": "quantitative", "scale": {"domain": [0, 60], "nice": false}, "axis": {"values": [0, 20, 40, 60], "title": "Time (months)"}},
  "y": {"field": "s", "type": "quantitative", "scale": {"domain": [0, 100], "nice": false}, "axis": {"values": [0, 20, 40, 60, 80, 100], "title": "PFS (%)"}}
 },
 "layer": [
  {"data": {"name": "curves"}, "transform": [{"filter": "datum.p === 'A'"}], "mark": {"type": "line", "interpolate": "step-after", "strokeWidth": 3.5}, "encoding": {"color": {"field": "g", "type": "nominal", "scale": {"domain": ["Sunitinib(low)", "Sunitinib(high)", "Sorafenib(low)", "Sorafenib(high)"], "range": ["#c4d8ea", "#f7d2c8", "#b9dbda", "#fbdfb3"]}, "legend": null}}},
  {"data": {"name": "curves"}, "transform": [{"filter": "datum.p === 'A'"}], "mark": {"type": "line", "interpolate": "step-after", "strokeWidth": 1.8}, "encoding": {"color": {"field": "g", "type": "nominal", "scale": {"domain": ["Sunitinib(low)", "Sunitinib(high)", "Sorafenib(low)", "Sorafenib(high)"], "range": ["#3b78ad", "#e9866f", "#2e8b8a", "#f2a73c"]}, "legend": {"orient": "none", "legendX": 247, "legendY": 40, "title": null, "padding": 0, "symbolType": "M-1,0L1,0M0,0L0,-0.5", "symbolSize": 144, "symbolStrokeWidth": 1.8, "symbolFillColor": "transparent", "labelFontSize": 9, "labelColor": "#333", "labelOffset": 4, "rowPadding": 1.7}}}},
  {"data": {"name": "censors"}, "transform": [{"filter": "datum.p === 'A'"}], "mark": {"type": "point", "shape": "M0,0L0,-1", "size": 49, "filled": false, "strokeWidth": 1.2, "opacity": 1}, "encoding": {"color": {"field": "g", "type": "nominal", "scale": {"domain": ["Sunitinib(low)", "Sunitinib(high)", "Sorafenib(low)", "Sorafenib(high)"], "range": ["#3b78ad", "#e9866f", "#2e8b8a", "#f2a73c"]}, "legend": null}}},
  {"data": {"name": "rules"}, "transform": [{"filter": "datum.p === 'A'"}], "mark": {"type": "rule", "color": "#444", "strokeWidth": 0.9}, "encoding": {"x2": {"field": "t2"}}},
  {"data": {"name": "texts"}, "transform": [{"filter": "datum.p === 'A' && datum.role === 'cell'"}], "mark": {"type": "text", "align": "left", "baseline": "middle", "fontSize": 8, "color": "#1a1a1a"}, "encoding": {"text": {"field": "text"}}},
  {"data": {"name": "texts"}, "transform": [{"filter": "datum.p === 'A' && datum.role === 'head'"}], "mark": {"type": "text", "align": "left", "baseline": "middle", "fontSize": 8, "fontWeight": "bold", "color": "#1a1a1a"}, "encoding": {"text": {"field": "text"}}},
  {"data": {"name": "texts"}, "transform": [{"filter": "datum.p === 'A' && datum.role === 'sub'"}], "mark": {"type": "text", "align": "left", "baseline": "middle", "fontSize": 6.5, "fontWeight": "bold", "dx": 5.4, "dy": 1.8, "color": "#1a1a1a"}, "encoding": {"text": {"field": "text"}}},
  {"data": {"name": "texts"}, "transform": [{"filter": "datum.p === 'A' && datum.role === 'letter'"}], "mark": {"type": "text", "align": "left", "baseline": "alphabetic", "fontSize": 41, "color": "#111"}, "encoding": {"text": {"field": "text"}}}
 ],
 "resolve": {"scale": {"color": "independent"}}
},
{
 "width": 296, "height": 193,
 "encoding": {
  "x": {"field": "t", "type": "quantitative", "scale": {"domain": [0, 60], "nice": false}, "axis": {"values": [0, 20, 40, 60], "title": "Time (months)"}},
  "y": {"field": "s", "type": "quantitative", "scale": {"domain": [0, 100], "nice": false}, "axis": {"values": [0, 20, 40, 60, 80, 100], "title": "OS (%)"}}
 },
 "layer": [
  {"data": {"name": "curves"}, "transform": [{"filter": "datum.p === 'B'"}], "mark": {"type": "line", "interpolate": "step-after", "strokeWidth": 3.5}, "encoding": {"color": {"field": "g", "type": "nominal", "scale": {"domain": ["Sunitinib(low)", "Sunitinib(high)", "Sorafenib(low)", "Sorafenib(high)"], "range": ["#c4d8ea", "#f7d2c8", "#b9dbda", "#fbdfb3"]}, "legend": null}}},
  {"data": {"name": "curves"}, "transform": [{"filter": "datum.p === 'B'"}], "mark": {"type": "line", "interpolate": "step-after", "strokeWidth": 1.8}, "encoding": {"color": {"field": "g", "type": "nominal", "scale": {"domain": ["Sunitinib(low)", "Sunitinib(high)", "Sorafenib(low)", "Sorafenib(high)"], "range": ["#3b78ad", "#e9866f", "#2e8b8a", "#f2a73c"]}, "legend": null}}},
  {"data": {"name": "censors"}, "transform": [{"filter": "datum.p === 'B'"}], "mark": {"type": "point", "shape": "M0,0L0,-1", "size": 49, "filled": false, "strokeWidth": 1.2, "opacity": 1}, "encoding": {"color": {"field": "g", "type": "nominal", "scale": {"domain": ["Sunitinib(low)", "Sunitinib(high)", "Sorafenib(low)", "Sorafenib(high)"], "range": ["#3b78ad", "#e9866f", "#2e8b8a", "#f2a73c"]}, "legend": null}}},
  {"data": {"name": "rules"}, "transform": [{"filter": "datum.p === 'B'"}], "mark": {"type": "rule", "color": "#444", "strokeWidth": 0.9}, "encoding": {"x2": {"field": "t2"}}},
  {"data": {"name": "texts"}, "transform": [{"filter": "datum.p === 'B' && datum.role === 'cell'"}], "mark": {"type": "text", "align": "left", "baseline": "middle", "fontSize": 8.8, "color": "#1a1a1a"}, "encoding": {"text": {"field": "text"}}},
  {"data": {"name": "texts"}, "transform": [{"filter": "datum.p === 'B' && datum.role === 'head'"}], "mark": {"type": "text", "align": "left", "baseline": "middle", "fontSize": 8.8, "fontWeight": "bold", "color": "#1a1a1a"}, "encoding": {"text": {"field": "text"}}},
  {"data": {"name": "texts"}, "transform": [{"filter": "datum.p === 'B' && datum.role === 'sub'"}], "mark": {"type": "text", "align": "left", "baseline": "middle", "fontSize": 5, "fontWeight": "bold", "dx": 6, "dy": 2, "color": "#1a1a1a"}, "encoding": {"text": {"field": "text"}}},
  {"data": {"name": "texts"}, "transform": [{"filter": "datum.p === 'B' && datum.role === 'letter'"}], "mark": {"type": "text", "align": "left", "baseline": "alphabetic", "fontSize": 36, "color": "#111"}, "encoding": {"text": {"field": "text"}}}
 ],
 "resolve": {"scale": {"color": "independent"}}
},
{
 "width": 299, "height": 177,
 "encoding": {
  "x": {"field": "t", "type": "quantitative", "scale": {"domain": [0, 60], "nice": false}, "axis": {"values": [0, 20, 40, 60], "title": "Time (months)"}},
  "y": {"field": "s", "type": "quantitative", "scale": {"domain": [0, 100], "nice": false}, "axis": {"values": [0, 20, 40, 60, 80, 100], "title": "PFS (%)"}}
 },
 "layer": [
  {"data": {"name": "curves"}, "transform": [{"filter": "datum.p === 'C'"}], "mark": {"type": "line", "interpolate": "step-after", "strokeWidth": 3.5}, "encoding": {"color": {"field": "g", "type": "nominal", "scale": {"domain": ["Sunitinib(low)", "Sunitinib(high)", "Sorafenib(low)", "Sorafenib(high)"], "range": ["#c4d8ea", "#f7d2c8", "#b9dbda", "#fbdfb3"]}, "legend": null}}},
  {"data": {"name": "curves"}, "transform": [{"filter": "datum.p === 'C'"}], "mark": {"type": "line", "interpolate": "step-after", "strokeWidth": 1.8}, "encoding": {"color": {"field": "g", "type": "nominal", "scale": {"domain": ["Sunitinib(low)", "Sunitinib(high)", "Sorafenib(low)", "Sorafenib(high)"], "range": ["#3b78ad", "#e9866f", "#2e8b8a", "#f2a73c"]}, "legend": {"orient": "none", "legendX": 233, "legendY": 33, "title": null, "padding": 0, "symbolType": "M-1,0L1,0M0,0L0,-0.5", "symbolSize": 144, "symbolStrokeWidth": 1.8, "symbolFillColor": "transparent", "labelFontSize": 9, "labelColor": "#333", "labelOffset": 4, "rowPadding": 1.4}}}},
  {"data": {"name": "censors"}, "transform": [{"filter": "datum.p === 'C'"}], "mark": {"type": "point", "shape": "M0,0L0,-1", "size": 49, "filled": false, "strokeWidth": 1.2, "opacity": 1}, "encoding": {"color": {"field": "g", "type": "nominal", "scale": {"domain": ["Sunitinib(low)", "Sunitinib(high)", "Sorafenib(low)", "Sorafenib(high)"], "range": ["#3b78ad", "#e9866f", "#2e8b8a", "#f2a73c"]}, "legend": null}}},
  {"data": {"name": "rules"}, "transform": [{"filter": "datum.p === 'C'"}], "mark": {"type": "rule", "color": "#444", "strokeWidth": 0.9}, "encoding": {"x2": {"field": "t2"}}},
  {"data": {"name": "texts"}, "transform": [{"filter": "datum.p === 'C' && datum.role === 'cell'"}], "mark": {"type": "text", "align": "left", "baseline": "middle", "fontSize": 8.7, "color": "#1a1a1a"}, "encoding": {"text": {"field": "text"}}},
  {"data": {"name": "texts"}, "transform": [{"filter": "datum.p === 'C' && datum.role === 'head'"}], "mark": {"type": "text", "align": "left", "baseline": "middle", "fontSize": 8.7, "fontWeight": "bold", "color": "#1a1a1a"}, "encoding": {"text": {"field": "text"}}},
  {"data": {"name": "texts"}, "transform": [{"filter": "datum.p === 'C' && datum.role === 'sub'"}], "mark": {"type": "text", "align": "left", "baseline": "middle", "fontSize": 5.9, "fontWeight": "bold", "dx": 5.9, "dy": 2, "color": "#1a1a1a"}, "encoding": {"text": {"field": "text"}}},
  {"data": {"name": "texts"}, "transform": [{"filter": "datum.p === 'C' && datum.role === 'letter'"}], "mark": {"type": "text", "align": "left", "baseline": "alphabetic", "fontSize": 35, "color": "#111"}, "encoding": {"text": {"field": "text"}}}
 ],
 "resolve": {"scale": {"color": "independent"}}
},
{
 "width": 298, "height": 181,
 "encoding": {
  "x": {"field": "t", "type": "quantitative", "scale": {"domain": [0, 60], "nice": false}, "axis": {"values": [0, 20, 40, 60], "title": "Time (months)"}},
  "y": {"field": "s", "type": "quantitative", "scale": {"domain": [0, 100], "nice": false}, "axis": {"values": [0, 20, 40, 60, 80, 100], "title": "OS (%)"}}
 },
 "layer": [
  {"data": {"name": "curves"}, "transform": [{"filter": "datum.p === 'D'"}], "mark": {"type": "line", "interpolate": "step-after", "strokeWidth": 3.5}, "encoding": {"color": {"field": "g", "type": "nominal", "scale": {"domain": ["Sunitinib(low)", "Sunitinib(high)", "Sorafenib(low)", "Sorafenib(high)"], "range": ["#c4d8ea", "#f7d2c8", "#b9dbda", "#fbdfb3"]}, "legend": null}}},
  {"data": {"name": "curves"}, "transform": [{"filter": "datum.p === 'D'"}], "mark": {"type": "line", "interpolate": "step-after", "strokeWidth": 1.8}, "encoding": {"color": {"field": "g", "type": "nominal", "scale": {"domain": ["Sunitinib(low)", "Sunitinib(high)", "Sorafenib(low)", "Sorafenib(high)"], "range": ["#3b78ad", "#e9866f", "#2e8b8a", "#f2a73c"]}, "legend": null}}},
  {"data": {"name": "censors"}, "transform": [{"filter": "datum.p === 'D'"}], "mark": {"type": "point", "shape": "M0,0L0,-1", "size": 49, "filled": false, "strokeWidth": 1.2, "opacity": 1}, "encoding": {"color": {"field": "g", "type": "nominal", "scale": {"domain": ["Sunitinib(low)", "Sunitinib(high)", "Sorafenib(low)", "Sorafenib(high)"], "range": ["#3b78ad", "#e9866f", "#2e8b8a", "#f2a73c"]}, "legend": null}}},
  {"data": {"name": "rules"}, "transform": [{"filter": "datum.p === 'D'"}], "mark": {"type": "rule", "color": "#444", "strokeWidth": 0.9}, "encoding": {"x2": {"field": "t2"}}},
  {"data": {"name": "texts"}, "transform": [{"filter": "datum.p === 'D' && datum.role === 'cell'"}], "mark": {"type": "text", "align": "left", "baseline": "middle", "fontSize": 8.7, "color": "#1a1a1a"}, "encoding": {"text": {"field": "text"}}},
  {"data": {"name": "texts"}, "transform": [{"filter": "datum.p === 'D' && datum.role === 'head'"}], "mark": {"type": "text", "align": "left", "baseline": "middle", "fontSize": 8.7, "fontWeight": "bold", "color": "#1a1a1a"}, "encoding": {"text": {"field": "text"}}},
  {"data": {"name": "texts"}, "transform": [{"filter": "datum.p === 'D' && datum.role === 'sub'"}], "mark": {"type": "text", "align": "left", "baseline": "middle", "fontSize": 5.5, "fontWeight": "bold", "dx": 5.9, "dy": 2, "color": "#1a1a1a"}, "encoding": {"text": {"field": "text"}}},
  {"data": {"name": "texts"}, "transform": [{"filter": "datum.p === 'D' && datum.role === 'letter'"}], "mark": {"type": "text", "align": "left", "baseline": "alphabetic", "fontSize": 31, "color": "#111"}, "encoding": {"text": {"field": "text"}}}
 ],
 "resolve": {"scale": {"color": "independent"}}
},
{
 "width": 277, "height": 189,
 "encoding": {
  "x": {"field": "t", "type": "quantitative", "scale": {"domain": [0, 60], "nice": false}, "axis": {"values": [0, 20, 40, 60], "title": "Time (months)"}},
  "y": {"field": "s", "type": "quantitative", "scale": {"domain": [0, 100], "nice": false}, "axis": {"values": [0, 20, 40, 60, 80, 100], "title": "PFS (%)"}}
 },
 "layer": [
  {"data": {"name": "curves"}, "transform": [{"filter": "datum.p === 'E'"}], "mark": {"type": "line", "interpolate": "step-after", "strokeWidth": 3.5}, "encoding": {"color": {"field": "g", "type": "nominal", "scale": {"domain": ["Sunitinib(low)", "Sunitinib(high)", "Sorafenib(low)", "Sorafenib(high)"], "range": ["#c4d8ea", "#f7d2c8", "#b9dbda", "#fbdfb3"]}, "legend": null}}},
  {"data": {"name": "curves"}, "transform": [{"filter": "datum.p === 'E'"}], "mark": {"type": "line", "interpolate": "step-after", "strokeWidth": 1.8}, "encoding": {"color": {"field": "g", "type": "nominal", "scale": {"domain": ["Sunitinib(low)", "Sunitinib(high)", "Sorafenib(low)", "Sorafenib(high)"], "range": ["#3b78ad", "#e9866f", "#2e8b8a", "#f2a73c"]}, "legend": {"orient": "none", "legendX": 222, "legendY": 40.7, "title": null, "padding": 0, "symbolType": "M-1,0L1,0M0,0L0,-0.5", "symbolSize": 144, "symbolStrokeWidth": 1.8, "symbolFillColor": "transparent", "labelFontSize": 9, "labelColor": "#333", "labelOffset": 4, "rowPadding": 1.7}}}},
  {"data": {"name": "censors"}, "transform": [{"filter": "datum.p === 'E'"}], "mark": {"type": "point", "shape": "M0,0L0,-1", "size": 49, "filled": false, "strokeWidth": 1.2, "opacity": 1}, "encoding": {"color": {"field": "g", "type": "nominal", "scale": {"domain": ["Sunitinib(low)", "Sunitinib(high)", "Sorafenib(low)", "Sorafenib(high)"], "range": ["#3b78ad", "#e9866f", "#2e8b8a", "#f2a73c"]}, "legend": null}}},
  {"data": {"name": "rules"}, "transform": [{"filter": "datum.p === 'E'"}], "mark": {"type": "rule", "color": "#444", "strokeWidth": 0.9}, "encoding": {"x2": {"field": "t2"}}},
  {"data": {"name": "texts"}, "transform": [{"filter": "datum.p === 'E' && datum.role === 'cell'"}], "mark": {"type": "text", "align": "left", "baseline": "middle", "fontSize": 8.6, "color": "#1a1a1a"}, "encoding": {"text": {"field": "text"}}},
  {"data": {"name": "texts"}, "transform": [{"filter": "datum.p === 'E' && datum.role === 'head'"}], "mark": {"type": "text", "align": "left", "baseline": "middle", "fontSize": 8.6, "fontWeight": "bold", "color": "#1a1a1a"}, "encoding": {"text": {"field": "text"}}},
  {"data": {"name": "texts"}, "transform": [{"filter": "datum.p === 'E' && datum.role === 'subplain'"}], "mark": {"type": "text", "align": "left", "baseline": "middle", "fontSize": 4.8, "dx": 5.8, "dy": 2, "color": "#1a1a1a"}, "encoding": {"text": {"field": "text"}}},
  {"data": {"name": "texts"}, "transform": [{"filter": "datum.p === 'E' && datum.role === 'letter'"}], "mark": {"type": "text", "align": "left", "baseline": "alphabetic", "fontSize": 29, "color": "#111"}, "encoding": {"text": {"field": "text"}}}
 ],
 "resolve": {"scale": {"color": "independent"}}
},
{
 "width": 298, "height": 185,
 "encoding": {
  "x": {"field": "t", "type": "quantitative", "scale": {"domain": [0, 60], "nice": false}, "axis": {"values": [0, 20, 40, 60], "title": "Time (months)"}},
  "y": {"field": "s", "type": "quantitative", "scale": {"domain": [0, 100], "nice": false}, "axis": {"values": [0, 20, 40, 60, 80, 100], "title": "OS (%)"}}
 },
 "layer": [
  {"data": {"name": "curves"}, "transform": [{"filter": "datum.p === 'F'"}], "mark": {"type": "line", "interpolate": "step-after", "strokeWidth": 3.5}, "encoding": {"color": {"field": "g", "type": "nominal", "scale": {"domain": ["Sunitinib(low)", "Sunitinib(high)", "Sorafenib(low)", "Sorafenib(high)"], "range": ["#c4d8ea", "#f7d2c8", "#b9dbda", "#fbdfb3"]}, "legend": null}}},
  {"data": {"name": "curves"}, "transform": [{"filter": "datum.p === 'F'"}], "mark": {"type": "line", "interpolate": "step-after", "strokeWidth": 1.8}, "encoding": {"color": {"field": "g", "type": "nominal", "scale": {"domain": ["Sunitinib(low)", "Sunitinib(high)", "Sorafenib(low)", "Sorafenib(high)"], "range": ["#3b78ad", "#e9866f", "#2e8b8a", "#f2a73c"]}, "legend": null}}},
  {"data": {"name": "censors"}, "transform": [{"filter": "datum.p === 'F'"}], "mark": {"type": "point", "shape": "M0,0L0,-1", "size": 49, "filled": false, "strokeWidth": 1.2, "opacity": 1}, "encoding": {"color": {"field": "g", "type": "nominal", "scale": {"domain": ["Sunitinib(low)", "Sunitinib(high)", "Sorafenib(low)", "Sorafenib(high)"], "range": ["#3b78ad", "#e9866f", "#2e8b8a", "#f2a73c"]}, "legend": null}}},
  {"data": {"name": "rules"}, "transform": [{"filter": "datum.p === 'F'"}], "mark": {"type": "rule", "color": "#444", "strokeWidth": 0.9}, "encoding": {"x2": {"field": "t2"}}},
  {"data": {"name": "texts"}, "transform": [{"filter": "datum.p === 'F' && datum.role === 'cell'"}], "mark": {"type": "text", "align": "left", "baseline": "middle", "fontSize": 8, "color": "#1a1a1a"}, "encoding": {"text": {"field": "text"}}},
  {"data": {"name": "texts"}, "transform": [{"filter": "datum.p === 'F' && datum.role === 'head'"}], "mark": {"type": "text", "align": "left", "baseline": "middle", "fontSize": 8, "fontWeight": "bold", "color": "#1a1a1a"}, "encoding": {"text": {"field": "text"}}},
  {"data": {"name": "texts"}, "transform": [{"filter": "datum.p === 'F' && datum.role === 'sub'"}], "mark": {"type": "text", "align": "left", "baseline": "middle", "fontSize": 6.5, "fontWeight": "bold", "dx": 5.4, "dy": 1.8, "color": "#1a1a1a"}, "encoding": {"text": {"field": "text"}}},
  {"data": {"name": "texts"}, "transform": [{"filter": "datum.p === 'F' && datum.role === 'letter'"}], "mark": {"type": "text", "align": "left", "baseline": "alphabetic", "fontSize": 35, "color": "#111"}, "encoding": {"text": {"field": "text"}}}
 ],
 "resolve": {"scale": {"color": "independent"}}
}
]
}
